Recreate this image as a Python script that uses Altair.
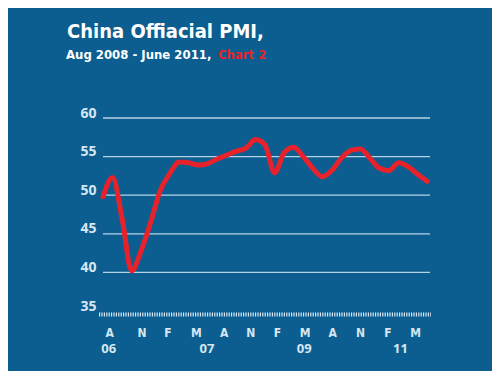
import altair as alt
import pandas as pd

# PMI readings, monthly index 0 = Aug 2008 ... 34 = Jun 2011
pmi = [49.8, 52.3, 47.0, 40.2, 42.8, 46.5, 50.6, 52.8, 54.3, 54.2,
       53.9, 54.1, 54.7, 55.2, 55.7, 56.1, 57.2, 56.5, 52.9, 55.5,
       56.2, 55.0, 53.5, 52.4, 53.2, 54.8, 55.8, 56.0, 54.8, 53.5,
       53.2, 54.2, 53.7, 52.7, 51.8]
month_index = list(range(len(pmi)))

month_letters = ["A", "N", "F", "M", "A", "N", "F", "M", "A", "N", "F", "M"]
letter_pos = [0.7, 4.1, 6.8, 9.8, 12.7, 15.5, 18.3, 21.2, 24.1, 27.0, 29.9, 32.8]
year_labels = ["06", "07", "09", "11"]
year_pos = [0.6, 10.9, 21.1, 31.2]
grid_values = [40, 45, 50, 55, 60]
y_ticks = [35, 40, 45, 50, 55, 60]

BG = "#0b5e8f"
RED = "#e8222b"
LIGHT = "#d6e6f2"
COND = "DejaVu Sans Condensed, Roboto, sans-serif"
W, H = 327, 193

df = pd.DataFrame({"m": month_index, "pmi": pmi})
letters_df = pd.DataFrame({"m": letter_pos, "t": month_letters})
years_df = pd.DataFrame({"m": year_pos, "t": year_labels})
grid_df = pd.DataFrame({"v": grid_values})

xs = alt.Scale(domain=[0, 34.3], nice=False, zero=False)
ys = alt.Scale(domain=[35, 60], nice=False, zero=False)

yaxis = alt.Axis(values=y_ticks, grid=False, ticks=False, domain=False,
                 labelOverlap=False, labelColor=LIGHT, labelFont="Open Sans",
                 labelFontWeight="bold", labelFontSize=14, labelPadding=7,
                 labelOffset=-5, title=None)

grid = alt.Chart(grid_df).mark_rule(color=LIGHT, strokeWidth=1.3, opacity=0.85).encode(
    y=alt.Y("v:Q", scale=ys, axis=yaxis),
    x=alt.value(0), x2=alt.value(W)
)

band = alt.Chart(pd.DataFrame({"v": [35]})).mark_rule(
    color=LIGHT, strokeWidth=4, strokeDash=[1.2, 1.2], yOffset=3.5
).encode(y=alt.Y("v:Q", scale=ys, axis=yaxis), x=alt.value(-4), x2=alt.value(W + 1))

line = alt.Chart(df).mark_line(color=RED, strokeWidth=5, interpolate="monotone",
                               strokeCap="round", strokeJoin="round").encode(
    x=alt.X("m:Q", scale=xs, axis=None),
    y=alt.Y("pmi:Q", scale=ys, axis=yaxis)
)

letters = alt.Chart(letters_df).mark_text(
    color=LIGHT, font=COND, fontWeight="bold", fontSize=12, baseline="middle"
).encode(x=alt.X("m:Q", scale=xs, axis=None), y=alt.value(H + 22), text="t:N")

years = alt.Chart(years_df).mark_text(
    color=LIGHT, font="Open Sans", fontWeight="bold", fontSize=13, baseline="middle"
).encode(x=alt.X("m:Q", scale=xs, axis=None), y=alt.value(H + 38), text="t:N")

title = alt.Chart(pd.DataFrame({"t": ["China Offiacial PMI,"]})).mark_text(
    color="white", font=COND, fontWeight="bold", fontSize=20,
    align="left", baseline="alphabetic"
).encode(x=alt.value(-36), y=alt.value(-80), text="t:N")

sub1 = alt.Chart(pd.DataFrame({"t": ["Aug 2008 - June 2011,"]})).mark_text(
    color="white", font=COND, fontWeight="bold", fontSize=13,
    align="left", baseline="alphabetic"
).encode(x=alt.value(-37), y=alt.value(-59), text="t:N")

sub2 = alt.Chart(pd.DataFrame({"t": ["Chart 2"]})).mark_text(
    color=RED, font=COND, fontWeight="bold", fontSize=13,
    align="left", baseline="alphabetic"
).encode(x=alt.value(115), y=alt.value(-59), text="t:N")

chart = alt.layer(grid, band, line, letters, years, title, sub1, sub2).properties(
    width=W, height=H,
    background=BG,
    autosize=alt.AutoSizeParams(type="none"),
    padding={"left": 95, "top": 110, "right": 62, "bottom": 60},
).configure_view(stroke=None).configure_axis(labelOverlap=False)

chart.save("out.html", embed_options={"renderer": "svg", "actions": False})
